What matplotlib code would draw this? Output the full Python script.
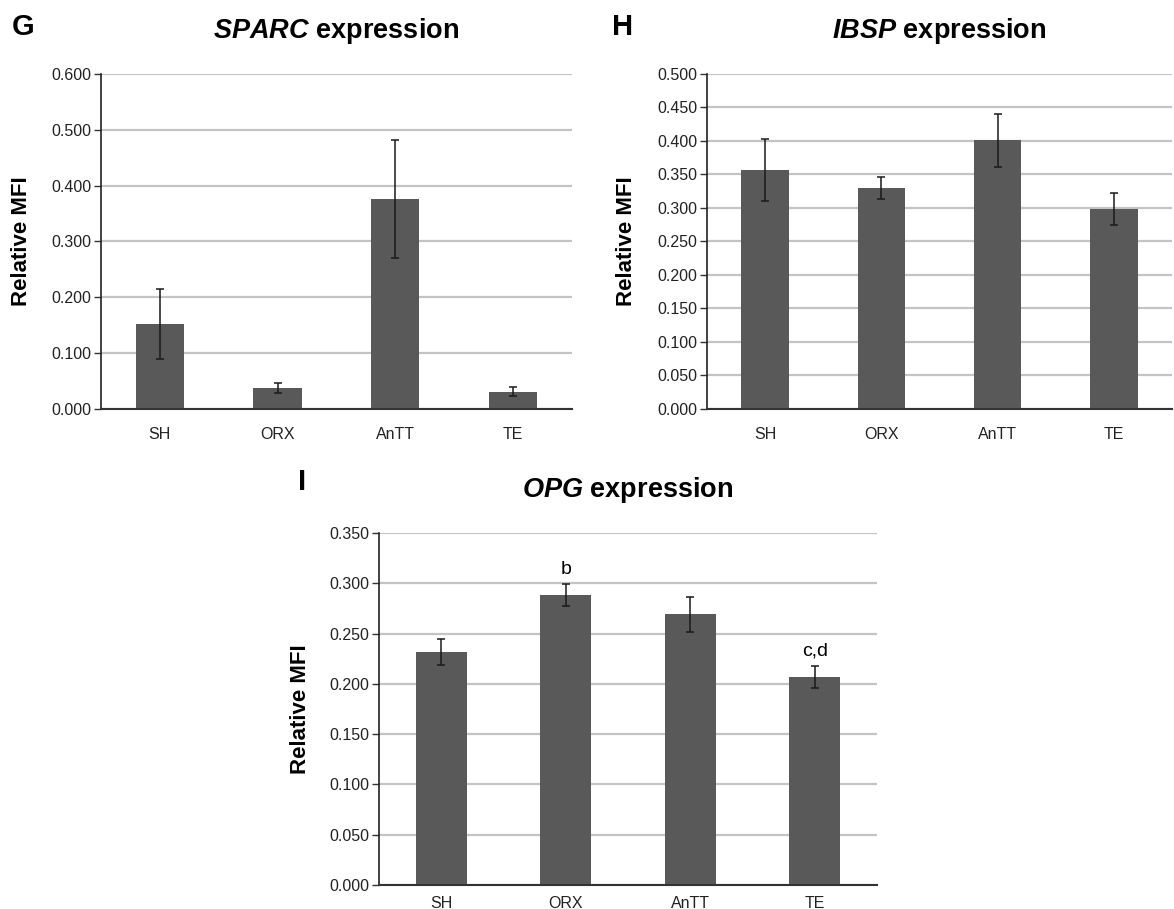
import matplotlib
matplotlib.use("Agg")
import matplotlib.pyplot as plt
import numpy as np

plt.rcParams['font.family'] = ['Liberation Sans', 'DejaVu Sans']
plt.rcParams['mathtext.fontset'] = 'custom'
plt.rcParams['mathtext.rm'] = 'Liberation Sans'
plt.rcParams['mathtext.bf'] = 'Liberation Sans:bold'
plt.rcParams['mathtext.bfit'] = 'Liberation Sans:italic:bold'

groups = ["SH", "ORX", "AnTT", "TE"]

sparc_mean = [0.152, 0.037, 0.376, 0.031]
sparc_err = [0.063, 0.009, 0.105, 0.008]

ibsp_mean = [0.357, 0.330, 0.401, 0.298]
ibsp_err = [0.046, 0.016, 0.040, 0.024]

opg_mean = [0.232, 0.288, 0.269, 0.207]
opg_err = [0.013, 0.011, 0.017, 0.011]
opg_marks = ["", "b", "", "c,d"]

bar_color = "#595959"
grid_color = "#c4c4c4"


def draw_panel(ax, means, errs, ymax, step, gene, label_x, xpad):
    x = np.arange(len(groups))
    ax.set_axisbelow(True)
    ax.yaxis.grid(True, color=grid_color, linewidth=1.6)
    ax.bar(x, means, width=0.41, color=bar_color, zorder=2)
    ax.errorbar(x, means, yerr=errs, fmt="none", ecolor="#1a1a1a",
                elinewidth=1.1, capsize=3.2, capthick=1.1, zorder=3)
    ax.set_xlim(-0.5, 3.5)
    ax.set_ylim(0, ymax)
    ticks = np.arange(0, ymax + step / 2, step)
    ax.set_yticks(ticks)
    ax.set_yticklabels(["%.3f" % t for t in ticks], fontsize=11.5, color="#222222")
    ax.set_xticks(x)
    ax.set_xticklabels(groups, fontsize=11.5, color="#222222")
    ax.tick_params(axis="x", length=0, pad=xpad)
    ax.tick_params(axis="y", length=5, width=1, color="#333333", pad=2)
    for s in ["top", "right"]:
        ax.spines[s].set_visible(False)
    ax.spines["left"].set_color("#222222")
    ax.spines["bottom"].set_color("#333333")
    ax.spines["left"].set_linewidth(1.2)
    ax.spines["bottom"].set_linewidth(1.5)
    ax.set_ylabel("Relative MFI", fontsize=16, fontweight="bold")
    ax.yaxis.set_label_coords(label_x, 0.5)
    ax.set_title(r"$\mathbfit{" + gene + r"}$" + " expression", fontsize=19.5,
                 fontweight="bold", pad=26)


fig = plt.figure(figsize=(11.74, 9.09), dpi=100)
ax_g = fig.add_axes([0.0860, 0.5501, 0.4012, 0.3685])
ax_h = fig.add_axes([0.6022, 0.5501, 0.3961, 0.3685])
ax_i = fig.add_axes([0.3228, 0.0264, 0.4242, 0.3872])

draw_panel(ax_g, sparc_mean, sparc_err, 0.6, 0.1, "SPARC", -0.147, 13)
draw_panel(ax_h, ibsp_mean, ibsp_err, 0.5, 0.05, "IBSP", -0.150, 13)
draw_panel(ax_i, opg_mean, opg_err, 0.35, 0.05, "OPG", -0.137, 8)

# panel letters
fig.text(12 / 1174, 1 - 27 / 909, "G", fontsize=21, fontweight="bold", va="center")
fig.text(612 / 1174, 1 - 27 / 909, "H", fontsize=21, fontweight="bold", va="center")
fig.text(298 / 1174, 1 - 482 / 909, "I", fontsize=21, fontweight="bold", va="center")

for xi, (m, e, lab) in enumerate(zip(opg_mean, opg_err, opg_marks)):
    if lab:
        ax_i.text(xi, m + e + 0.006, lab, ha="center", va="bottom", fontsize=14)

fig.savefig("out.png", dpi=100)
